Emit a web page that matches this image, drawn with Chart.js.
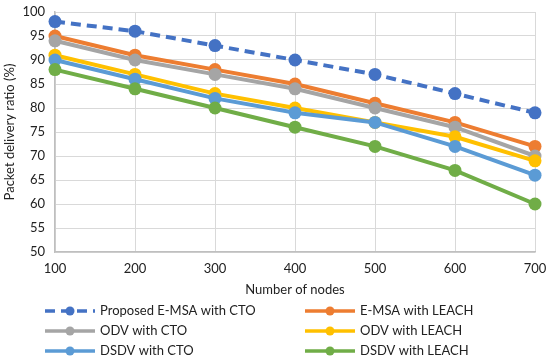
<!DOCTYPE html>
<html>
<head>
<meta charset="utf-8">
<script src="https://cdn.jsdelivr.net/npm/chart.js@4/dist/chart.umd.min.js"></script>
<style>
  html, body { margin: 0; padding: 0; background: #fff; }
  #wrap { width: 550px; height: 362px; }
</style>
</head>
<body>
<div id="wrap"><canvas id="c" width="550" height="362"></canvas></div>
<script>
const nodes = [100, 200, 300, 400, 500, 600, 700];
const yTicks = [50, 55, 60, 65, 70, 75, 80, 85, 90, 95, 100];

const emsaCto = [98, 96, 93, 90, 87, 83, 79];
const emsaLeach = [95, 91, 88, 85, 81, 77, 72];
const odvCto = [94, 90, 87, 84, 80, 76, 70];
const odvLeach = [91, 87, 83, 80, 77, 74, 69];
const dsdvCto = [90, 86, 82, 79, 77, 72, 66];
const dsdvLeach = [88, 84, 80, 76, 72, 67, 60];

// drawing order: last on top, like the reference
const SERIES = [
  { label: "DSDV with LEACH", values: dsdvLeach, color: "#70ad47", col: 1, row: 2 },
  { label: "DSDV with CTO", values: dsdvCto, color: "#5b9bd5", col: 0, row: 2 },
  { label: "ODV with LEACH", values: odvLeach, color: "#ffc000", col: 1, row: 1 },
  { label: "ODV with CTO", values: odvCto, color: "#a5a5a5", col: 0, row: 1 },
  { label: "E-MSA with LEACH", values: emsaLeach, color: "#ed7d31", col: 1, row: 0 },
  { label: "Proposed E-MSA with CTO", values: emsaCto, color: "#4472c4", col: 0, row: 0, dash: [10, 6] },
];

const FONT = "Lato, 'Open Sans', sans-serif";

const legendPlugin = {
  id: "bottomLegend",
  afterDraw(chart) {
    const ctx = chart.ctx;
    ctx.save();
    chart.data.datasets.forEach((ds) => {
      const x0 = ds.legendCol === 0 ? 45 : 305;
      const y = 311 + ds.legendRow * 20;
      ctx.strokeStyle = ds.borderColor;
      ctx.lineWidth = 3.5;
      ctx.setLineDash(ds.borderDash || []);
      ctx.beginPath();
      ctx.moveTo(x0, y);
      ctx.lineTo(x0 + 50, y);
      ctx.stroke();
      ctx.setLineDash([]);
      ctx.fillStyle = ds.borderColor;
      ctx.beginPath();
      ctx.arc(x0 + 25, y, 4.5, 0, Math.PI * 2);
      ctx.fill();
      ctx.fillStyle = "#222";
      ctx.font = "13px " + FONT;
      ctx.textBaseline = "middle";
      ctx.fillText(ds.label, x0 + 55, y);
    });
    ctx.restore();
  },
};

new Chart(document.getElementById("c"), {
  type: "line",
  data: {
    datasets: SERIES.map((s) => ({
      label: s.label,
      data: nodes.map((n, i) => ({ x: n, y: s.values[i] })),
      borderColor: s.color,
      backgroundColor: s.color,
      borderWidth: 4,
      borderDash: s.dash || [],
      pointRadius: 6.5,
      pointBackgroundColor: s.color,
      pointBorderWidth: 0,
      tension: 0,
      clip: false,
      legendCol: s.col,
      legendRow: s.row,
    })),
  },
  plugins: [legendPlugin],
  options: {
    responsive: false,
    animation: false,
    layout: { padding: { left: 0, right: 15, top: 12, bottom: 60 } },
    plugins: { legend: { display: false }, tooltip: { enabled: false } },
    scales: {
      x: {
        type: "linear",
        min: 100,
        max: 700,
        afterBuildTicks: (scale) => { scale.ticks = nodes.map((v) => ({ value: v })); },
        ticks: { color: "#222", font: { size: 13, family: FONT }, padding: 9 },
        grid: { color: "#d9d9d9", borderDash: [4, 3], drawTicks: false },
        border: { color: "#bfbfbf", width: 1.5 },
        title: { display: true, text: "Number of nodes", color: "#222", font: { size: 13, family: FONT }, padding: { top: 4 } },
        afterFit: (scale) => { scale.height = 50; scale.paddingLeft = 0; scale.paddingRight = 0; },
      },
      y: {
        min: 50,
        max: 100,
        afterBuildTicks: (scale) => { scale.ticks = yTicks.map((v) => ({ value: v })); },
        ticks: { color: "#222", font: { size: 13, family: FONT }, padding: 10 },
        grid: { color: "#d9d9d9", borderDash: [4, 3], drawTicks: false },
        border: { color: "#bfbfbf", width: 1.5 },
        title: { display: true, text: "Packet delivery ratio (%)", color: "#222", font: { size: 13, family: FONT }, padding: 2 },
        afterFit: (scale) => { scale.width = 55; scale.paddingTop = 0; scale.paddingBottom = 0; },
      },
    },
  },
});
</script>
</body>
</html>
